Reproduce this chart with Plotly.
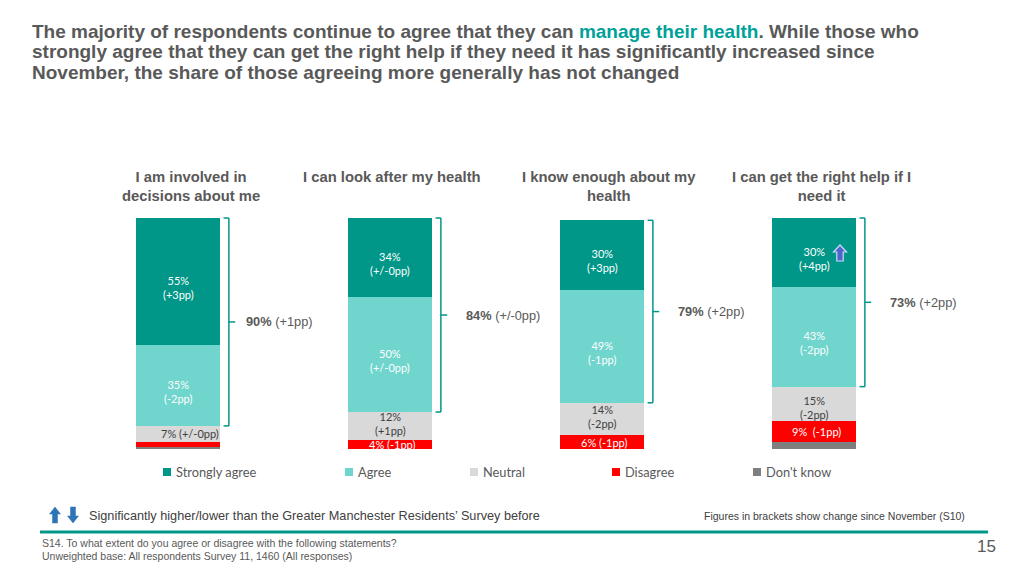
import plotly.graph_objects as go

# page is rendered with an 8px body margin: the figure fills the rest of the window
OFF = 8
W, H = 1024 - OFF, 576 - OFF

categories = ["I am involved in<br>decisions about me", "I can look after my health",
              "I know enough about my<br>health", "I can get the right help if I<br>need it"]
series_names = ["Strongly agree", "Agree", "Neutral", "Disagree", "Don't know"]
strongly_agree = [55, 34, 30, 30]
agree = [35, 50, 49, 43]
neutral = [7, 12, 14, 15]
disagree = [2, 4, 6, 9]
dont_know = [1, 0, 0, 3]

sa_change = ["(+3pp)", "(+/-0pp)", "(+3pp)", "(+4pp)"]
a_change = ["(-2pp)", "(+/-0pp)", "(-1pp)", "(-2pp)"]
n_change = ["(+/-0pp)", "(+1pp)", "(-2pp)", "(-2pp)"]
d_change = ["", "(-1pp)", "(-1pp)", "(-1pp)"]
net_agree = [90, 84, 79, 73]
net_change = ["(+1pp)", "(+/-0pp)", "(+2pp)", "(+2pp)"]

colors = ["#009688", "#6FD5CD", "#D9D9D9", "#FF0000", "#7F7F7F"]
GREY = "#595959"
TEAL = "#009688"

series = [strongly_agree, agree, neutral, disagree, dont_know]
xpos = list(range(len(categories)))

fig = go.Figure()
# stack from the bottom: Don't know first, Strongly agree last (on top)
for name, vals, col in reversed(list(zip(series_names, series, colors))):
    fig.add_trace(go.Bar(x=xpos, y=vals, name=name, marker=dict(color=col, line=dict(width=0)),
                         width=0.40, showlegend=False, hoverinfo="name+y"))

# axis mapping (reference pixel coords -> figure coords)
x0px, dxpx = 178 - OFF, 212
ybot, pxper = 449 - OFF, 2.31
xr = [-x0px / dxpx, (W - x0px) / dxpx]
yr = [-(H - ybot) / pxper, ybot / pxper]

def P(px, py):
    return (px - OFF) / W, 1 - (py - OFF) / H

ann = []
shapes = []

LBL = "Lato, Open Sans, sans-serif"
TF = "Liberation Sans, Arial, sans-serif"

for i in xpos:
    sa, a, n, d = strongly_agree[i], agree[i], neutral[i], disagree[i]
    dk = dont_know[i]
    top = dk + d + n + a + sa
    ann.append(dict(x=i, y=top - sa / 2, xref="x", yref="y", text=f"{sa}%<br>{sa_change[i]}",
                    showarrow=False, yshift=-6, font=dict(color="white", size=11, family=LBL)))
    ann.append(dict(x=i, y=dk + d + n + a / 2, xref="x", yref="y", text=f"{a}%<br>{a_change[i]}",
                    showarrow=False, yshift=-6, font=dict(color="white", size=11, family=LBL)))
    if n < 10:
        ann.append(dict(x=i, y=dk + d + n / 2, xref="x", yref="y", text=f"{n}% {n_change[i]}",
                        showarrow=False, xshift=12, font=dict(color="#404040", size=11, family=LBL)))
    else:
        ann.append(dict(x=i, y=dk + d + n / 2, xref="x", yref="y", text=f"{n}%<br>{n_change[i]}",
                        showarrow=False, yshift=2 if i < 3 else -4,
                        font=dict(color="#404040", size=11, family=LBL)))
    if d_change[i]:
        sep = "&nbsp;&nbsp;" if d >= 9 else " "
        ann.append(dict(x=i, y=dk + d / 2, xref="x", yref="y", text=f"{d}%{sep}{d_change[i]}",
                        showarrow=False, xshift=2, font=dict(color="white", size=11, family=LBL)))

    # bracket for net agree
    bx = i + 0.24
    ylo = dk + d + n
    yhi = top
    ymid = (ylo + yhi) / 2
    line = dict(color=TEAL, width=1.5)
    shapes.append(dict(type="line", xref="x", yref="y", x0=bx, x1=bx, y0=ylo, y1=yhi, line=line))
    shapes.append(dict(type="line", xref="x", yref="y", x0=bx - 0.025, x1=bx, y0=yhi, y1=yhi, line=line))
    shapes.append(dict(type="line", xref="x", yref="y", x0=bx - 0.025, x1=bx, y0=ylo, y1=ylo, line=line))
    shapes.append(dict(type="line", xref="x", yref="y", x0=bx, x1=bx + 0.03, y0=ymid, y1=ymid, line=line))
    dx = 0.31 if i == 0 else 0.35
    ann.append(dict(x=i + dx, y=ymid, xref="x", yref="y", xanchor="left",
                    text=f"<b>{net_agree[i]}%</b> {net_change[i]}", showarrow=False,
                    font=dict(color=GREY, size=12.8, family=TF)))

    # category labels (top-aligned)
    ann.append(dict(x=i, y=100 + 51 / pxper, xref="x", yref="y", text=f"<b>{categories[i]}</b>",
                    showarrow=False, xshift=[13, 2, 7, 7][i], yanchor="top",
                    font=dict(color=GREY, size=14.8, family=TF)))

# title
title_lines = [
    "<b>The majority of respondents continue to agree that they can <span style='color:#00A19A'>manage their health</span>. While those who</b>",
    "<b>strongly agree that they can get the right help if they need it has significantly increased since</b>",
    "<b>November, the share of those agreeing more generally has not changed</b>",
]
for k, t in enumerate(title_lines):
    px, py = P(30, 31 + k * 20.7)
    ann.append(dict(x=px, y=py, xref="paper", yref="paper", xanchor="left", yanchor="middle",
                    text=t, showarrow=False, font=dict(color=GREY, size=19, family=TF)))

# legend (manual)
leg_x = [163, 345, 470, 612, 753]
for name, col, lx in zip(series_names, colors, leg_x):
    a0 = P(lx, 468); a1 = P(lx + 8, 476)
    shapes.append(dict(type="rect", xref="paper", yref="paper", x0=a0[0], x1=a1[0], y0=a1[1], y1=a0[1],
                       fillcolor=col, line=dict(width=0)))
    px, py = P(lx + 11, 472)
    ann.append(dict(x=px, y=py, xref="paper", yref="paper", xanchor="left", yanchor="middle",
                    text=name, showarrow=False, font=dict(color=GREY, size=12.8, family=LBL)))

def path(points):
    s = ""
    for j, (px, py) in enumerate(points):
        x, y = P(px, py)
        s += ("M" if j == 0 else "L") + f"{x:.5f},{y:.5f} "
    return s + "Z"

def up_arrow(cx, top, bottom, hw, sw, head):
    return [(cx, top), (cx + hw, top + head), (cx + sw, top + head), (cx + sw, bottom),
            (cx - sw, bottom), (cx - sw, top + head), (cx - hw, top + head)]

def down_arrow(cx, top, bottom, hw, sw, head):
    return [(cx, bottom), (cx + hw, bottom - head), (cx + sw, bottom - head), (cx + sw, top),
            (cx - sw, top), (cx - sw, bottom - head), (cx - hw, bottom - head)]

shapes.append(dict(type="path", xref="paper", yref="paper", path=path(up_arrow(840, 245, 261, 6.5, 3.2, 7)),
                   fillcolor="#4F66C8", line=dict(color="#C5DDF7", width=1.2)))
shapes.append(dict(type="path", xref="paper", yref="paper", path=path(up_arrow(55, 507, 523, 5.5, 2.5, 7)),
                   fillcolor="#2E75B6", line=dict(color="#2E75B6", width=0.5)))
shapes.append(dict(type="path", xref="paper", yref="paper", path=path(down_arrow(73, 507, 523, 5.5, 2.5, 7)),
                   fillcolor="#2E75B6", line=dict(color="#2E75B6", width=0.5)))

px, py = P(87, 516)
ann.append(dict(x=px, y=py, xref="paper", yref="paper", xanchor="left", yanchor="middle",
                text="Significantly higher/lower than the Greater Manchester Residents’ Survey before",
                showarrow=False, font=dict(color="#404040", size=12.7, family=TF)))
px, py = P(967, 516)
ann.append(dict(x=px, y=py, xref="paper", yref="paper", xanchor="right", yanchor="middle",
                text="Figures in brackets show change since November (S10)",
                showarrow=False, font=dict(color="#404040", size=10.5, family=TF)))
a0 = P(40, 532); a1 = P(988, 532)
shapes.append(dict(type="line", xref="paper", yref="paper", x0=a0[0], x1=a1[0], y0=a0[1], y1=a1[1],
                   line=dict(color=TEAL, width=3)))
px, py = P(40, 543)
ann.append(dict(x=px, y=py, xref="paper", yref="paper", xanchor="left", yanchor="middle",
                text="S14. To what extent do you agree or disagree with the following statements?",
                showarrow=False, font=dict(color="#595959", size=10.5, family=TF)))
px, py = P(40, 556)
ann.append(dict(x=px, y=py, xref="paper", yref="paper", xanchor="left", yanchor="middle",
                text="Unweighted base: All respondents Survey 11, 1460 (All responses)",
                showarrow=False, font=dict(color="#595959", size=10.5, family=TF)))
px, py = P(998, 546)
ann.append(dict(x=px, y=py, xref="paper", yref="paper", xanchor="right", yanchor="middle",
                text="15", showarrow=False, font=dict(color="#595959", size=17, family=TF)))

fig.update_layout(
    width=W, height=H, barmode="stack", bargap=0,
    margin=dict(l=0, r=0, t=0, b=0, pad=0),
    paper_bgcolor="white", plot_bgcolor="white",
    xaxis=dict(range=xr, visible=False, fixedrange=True),
    yaxis=dict(range=yr, visible=False, fixedrange=True),
    annotations=ann, shapes=shapes, showlegend=False,
)
fig.write_html("out.html")
